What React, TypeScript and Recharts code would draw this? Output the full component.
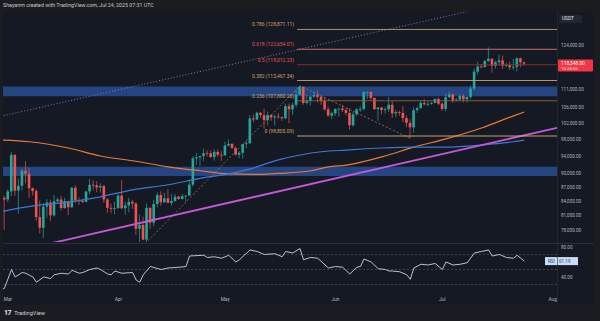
import React from 'react';
import { ComposedChart, Bar, Line, XAxis, YAxis, ReferenceLine, ReferenceArea } from 'recharts';

// Daily BTC/USDT candles from Feb 28 (day -1) to Jul 24 (day 145), prices in thousands
const firstDay = -1;
const opens = [
  84.7, 84.35, 86.06, 94.27, 86.22, 87.28, 90.6, 89.96, 86.74, 86.15, 80.73, 78.6, 82.86, 83.72, 81.07, 83.97,
  84.34, 82.57, 84.01, 82.72, 86.85, 84.17, 84.04, 83.83, 86.05, 87.5, 87.4, 86.9, 87.2, 84.35, 82.6, 82.39,
  82.55, 85.16, 82.52, 83.1, 83.86, 83.5, 78.4, 79.16, 76.32, 82.6, 79.6, 83.4, 85.3, 83.76, 84.57, 83.63,
  84.03, 84.94, 84.45, 85.06, 85.17, 87.52, 93.44, 93.7, 93.98, 94.64, 94.63, 93.75, 94.98, 94.28, 94.17, 96.49,
  96.91, 95.89, 94.32, 94.75, 96.83, 97.03, 103.24, 102.97, 104.7, 104.1, 102.79, 104.1, 103.5, 103.74, 103.55, 103.26,
  106.45, 105.6, 106.8, 109.6, 111.7, 107.3, 107.8, 109.0, 109.4, 108.94, 107.8, 105.6, 103.98, 104.59, 105.65, 105.8,
  105.4, 104.65, 101.5, 104.3, 105.6, 105.7, 110.26, 110.27, 108.65, 105.67, 106.07, 105.41, 105.6, 106.8, 104.55, 104.88,
  104.66, 103.3, 102.1, 100.96, 105.4, 105.9, 107.3, 106.95, 107.05, 107.3, 108.35, 107.1, 105.7, 108.85, 109.6, 107.99,
  108.2, 109.2, 108.26, 108.9, 111.23, 115.99, 117.5, 117.4, 119.1, 119.8, 117.7, 118.76, 119.3, 117.76, 117.9, 117.27,
  117.4, 119.95, 118.75,
];
const highs = [
  85.1, 86.5, 95.0, 94.4, 88.9, 91.0, 92.8, 91.2, 86.9, 86.5, 84.1, 83.6, 84.4, 84.3, 85.3, 84.7,
  85.1, 84.7, 84.1, 87.0, 87.4, 84.8, 84.5, 86.1, 88.8, 88.5, 88.3, 87.8, 87.5, 84.6, 83.5, 83.9,
  85.5, 88.5, 83.9, 84.7, 84.2, 83.8, 81.2, 80.8, 83.5, 82.7, 84.3, 85.9, 86.1, 85.8, 86.5, 85.5,
  85.5, 85.1, 85.6, 85.3, 88.5, 93.9, 94.7, 94.0, 95.7, 95.3, 95.3, 95.6, 95.5, 95.2, 97.4, 97.9,
  96.95, 96.3, 95.2, 96.9, 97.7, 104.0, 104.3, 104.98, 104.9, 105.8, 105.0, 104.3, 104.2, 104.6, 103.7, 107.1,
  107.1, 107.3, 110.8, 111.98, 111.8, 109.5, 109.3, 110.4, 110.7, 109.3, 108.9, 106.3, 104.9, 105.9, 105.9, 106.8,
  106.0, 105.9, 105.0, 105.9, 106.4, 110.5, 110.4, 110.4, 108.8, 106.2, 106.2, 106.1, 108.9, 107.8, 105.5, 105.3,
  106.5, 104.0, 103.0, 106.1, 106.3, 108.1, 108.3, 107.8, 107.6, 108.5, 108.8, 107.5, 109.8, 110.5, 109.8, 108.5,
  109.7, 109.7, 109.2, 111.99, 116.9, 118.9, 118.2, 119.5, 123.2, 119.9, 119.2, 120.9, 120.8, 118.6, 118.9, 119.7,
  120.2, 120.1, 119.0,
];
const lows = [
  78.2, 83.8, 85.0, 85.1, 81.4, 86.3, 87.8, 84.7, 85.2, 80.0, 77.5, 76.6, 80.6, 79.9, 80.8, 83.6,
  82.0, 82.4, 81.1, 82.6, 83.6, 83.2, 83.6, 83.8, 85.5, 86.3, 85.9, 85.8, 83.6, 81.6, 81.5, 81.3,
  82.4, 82.3, 81.2, 81.7, 82.4, 77.2, 74.5, 76.2, 74.6, 78.4, 78.9, 82.7, 83.0, 83.7, 83.6, 83.1,
  83.9, 84.3, 84.3, 83.9, 85.1, 87.1, 91.9, 91.7, 92.8, 93.9, 93.6, 92.9, 93.8, 92.9, 94.1, 96.3,
  95.7, 94.1, 93.5, 93.4, 95.8, 96.9, 102.3, 102.8, 103.3, 100.7, 101.5, 102.6, 101.4, 103.1, 102.6, 103.0,
  102.0, 104.1, 106.1, 109.3, 106.8, 106.9, 106.6, 108.6, 107.5, 106.8, 105.3, 103.6, 103.1, 103.9, 103.7, 104.9,
  104.0, 100.4, 101.1, 103.9, 104.9, 105.3, 108.4, 108.1, 105.4, 102.7, 104.3, 104.5, 104.9, 103.4, 103.5, 103.9,
  102.3, 101.0, 98.2, 99.6, 104.7, 105.8, 106.6, 106.4, 106.8, 107.2, 106.7, 105.3, 105.1, 108.6, 107.3, 107.8,
  107.8, 107.5, 107.4, 108.3, 110.6, 115.2, 116.9, 117.2, 118.9, 115.7, 116.9, 117.8, 116.8, 117.3, 116.5, 116.5,
  116.1, 117.3, 117.8,
];
const closes = [
  84.35, 86.06, 94.27, 86.22, 87.28, 90.6, 89.96, 86.74, 86.15, 80.73, 78.6, 82.86, 83.72, 81.07, 83.97, 84.34,
  82.57, 84.01, 82.72, 86.85, 84.17, 84.04, 83.83, 86.05, 87.5, 87.4, 86.9, 87.2, 84.35, 82.6, 82.39, 82.55,
  85.16, 82.52, 83.1, 83.86, 83.5, 78.4, 79.16, 76.32, 82.6, 79.6, 83.4, 85.3, 83.76, 84.57, 83.63, 84.03,
  84.94, 84.45, 85.06, 85.17, 87.52, 93.44, 93.7, 93.98, 94.64, 94.63, 93.75, 94.98, 94.28, 94.17, 96.49, 96.91,
  95.89, 94.32, 94.75, 96.83, 97.03, 103.24, 102.97, 104.7, 104.1, 102.79, 104.1, 103.5, 103.74, 103.55, 103.26, 106.45,
  105.6, 106.8, 109.6, 111.7, 107.3, 107.8, 109.0, 109.4, 108.94, 107.8, 105.6, 103.98, 104.59, 105.65, 105.8, 105.4,
  104.65, 101.5, 104.3, 105.6, 105.7, 110.26, 110.27, 108.65, 105.67, 106.07, 105.41, 105.6, 106.8, 104.55, 104.88, 104.66,
  103.3, 102.1, 100.96, 105.4, 105.9, 107.3, 106.95, 107.05, 107.3, 108.35, 107.1, 105.7, 108.85, 109.6, 107.99, 108.2,
  109.2, 108.26, 108.9, 111.23, 115.99, 117.5, 117.4, 119.1, 119.8, 117.7, 118.76, 119.3, 117.76, 117.9, 117.27, 117.4,
  119.95, 118.75, 118.348,
];

const priceTicks = [78000, 81000, 84000, 87000, 90000, 94000, 98000, 102000, 106000, 111000, 124000];
const monthDays = [0, 31, 61, 92, 122, 153];
const monthNames = ['Mar', 'Apr', 'May', 'Jun', 'Jul', 'Aug'];

// Trend-based fib extension levels
const fibRatios = ['0.786', '0.618', '0.5', '0.382', '0.236', '0'];
const fibPrices = [128871.11, 122654.01, 118012.23, 113467.34, 107880.26, 98805.09];
const fibLineColors = ['#c49a72', '#d9777c', '#8f2e3c', '#c9a27c', '#8e5f3a', '#dcb27e'];
const fibTextColors = ['#d4a066', '#e0565a', '#e0565a', '#d4a066', '#d4a066', '#d4a066'];
const fibStartDay = 81.2;

// Support / resistance boxes
const zoneLows = [109100, 89450];
const zoneHighs = [111750, 91500];

// Moving averages (thousands)
const orangeMaDays = [-2, 6, 17, 26, 35, 45, 54, 62, 71, 76, 85, 90, 95, 105, 114, 123, 133, 142, 145];
const orangeMa = [97.8, 97.4, 95.9, 94.0, 92.9, 91.5, 90.6, 89.9, 89.8, 90.0, 90.6, 91.5, 91.9, 93.8, 96.1, 98.1, 100.8, 103.9, 104.9];
const blueMaDays = [-2, 7, 17, 26, 35, 45, 54, 62, 67, 76, 88, 95, 105, 114, 123, 133, 142, 145];
const blueMa = [81.8, 83.0, 83.8, 84.9, 86.4, 87.5, 88.9, 89.9, 90.8, 93.1, 95.0, 95.4, 95.9, 96.1, 96.1, 96.6, 97.4, 97.8];

// Drawn trendlines (thousands)
const supportDays = [12, 155];
const supportPrices = [75.6, 101.0];
const channelDays = [-2, 130];
const channelPrices = [103.8, 135.0];
const swingDays = [37, 82, 113];
const swingPrices = [74.5, 111.98, 98.2];

// RSI(14)
const rsiDays = [-2, -1, 1, 2, 4, 5, 7, 8, 10, 12, 13, 15, 17, 18, 20, 21, 23, 25, 26, 28, 29, 30, 32, 35, 36, 37, 38,
  40, 43, 45, 48, 50, 51, 55, 56, 58, 60, 62, 64, 65, 68, 70, 72, 75, 77, 78, 80, 82, 83, 85, 87, 90, 92, 94, 96,
  98, 99, 100, 102, 104, 106, 107, 108, 110, 112, 113, 114, 116, 118, 120, 122, 123, 125, 127, 129, 131, 133, 135,
  136, 138, 140, 142, 143, 145];
const rsiValues = [23, 25, 50, 40, 46, 45, 40, 33, 40, 38, 43, 45, 44, 49, 45, 46, 50, 52, 50, 44, 43, 48, 45, 46, 36, 33, 43,
  54, 50, 52, 53, 54, 68, 69, 66, 67, 65, 69, 60, 63, 76, 74, 70, 71, 67, 74, 72, 78, 63, 66, 65, 52, 54, 53, 44,
  53, 54, 64, 60, 51, 50, 48, 48, 47, 43, 37, 52, 57, 56, 58, 50, 60, 56, 57, 59, 72, 74, 76,
  68, 70, 66, 65, 69, 61.19];

const lastPrice = 118348;
const countdown = '16:28:05';
const rsiLast = 61.19;

const xDomain: [number, number] = [-1.4, 154.2];
const priceDomain: [number, number] = [75860, 134600];
const rsiDomain: [number, number] = [14.7, 85.3];

const COLORS = {
  frame: '#1b1c20',
  bg: '#151924',
  border: '#2a2e39',
  text: '#b2b5be',
  up: '#26a69a',
  down: '#ef5350',
  zone: '#27498b',
  orange: '#ec7a2e',
  blue: '#3b78d8',
  purple: '#c45ad8',
  channel: '#9f7cc0',
  swing: '#a8825f',
  rsi: '#d1d4dc',
};

const FONT = 'Roboto, "Liberation Sans", sans-serif';

const candles = opens.map((o, i) => ({
  day: firstDay + i,
  open: o * 1000,
  high: highs[i] * 1000,
  low: lows[i] * 1000,
  close: closes[i] * 1000,
}));
const orangeData = orangeMaDays.map((d, i) => ({ day: d, v: orangeMa[i] * 1000 }));
const blueData = blueMaDays.map((d, i) => ({ day: d, v: blueMa[i] * 1000 }));
const supportData = supportDays.map((d, i) => ({ day: d, v: supportPrices[i] * 1000 }));
const channelData = channelDays.map((d, i) => ({ day: d, v: channelPrices[i] * 1000 }));
const swingData = swingDays.map((d, i) => ({ day: d, v: swingPrices[i] * 1000 }));
const rsiData = rsiDays.map((d, i) => ({ day: d, v: rsiValues[i] }));

const fmt = (v: number) => v.toLocaleString('en-US', { minimumFractionDigits: 2, maximumFractionDigits: 2 });

// Bar covers low..high; open/close are placed inside it on the log scale
const Candle = (props: any) => {
  const { x, y, width, height, payload } = props;
  if (x == null || y == null || height == null || !payload) return null;
  const yHigh = Math.min(y, y + height);
  const yLow = Math.max(y, y + height);
  const lh = Math.log(payload.high);
  const ll = Math.log(payload.low);
  const span = lh - ll || 1;
  const toY = (v: number) => yHigh + ((yLow - yHigh) * (lh - Math.log(v))) / span;
  const cx = x + width / 2;
  const color = payload.close >= payload.open ? COLORS.up : COLORS.down;
  const top = toY(Math.max(payload.open, payload.close));
  const bottom = toY(Math.min(payload.open, payload.close));
  return (
    <g>
      <line x1={cx} x2={cx} y1={yHigh} y2={yLow} stroke={color} strokeWidth={0.7} />
      <rect x={cx - 1.3} y={top} width={2.6} height={Math.max(bottom - top, 0.8)} fill={color} />
    </g>
  );
};

const FibLabel = (props: any) => {
  const { viewBox, text, color } = props;
  if (!viewBox) return null;
  return (
    <text x={viewBox.x - 3} y={viewBox.y - 3} textAnchor="end" fontSize={5} fontFamily={FONT} fill={color}>
      {text}
    </text>
  );
};

const PriceTag = (props: any) => {
  const { viewBox } = props;
  if (!viewBox) return null;
  const x = viewBox.x + viewBox.width + 1;
  const y = viewBox.y;
  return (
    <g>
      <rect x={x} y={y - 4} width={35} height={12} rx={1} fill="#f23645" />
      <text x={x + 3} y={y + 1.5} fontSize={4.8} fontFamily={FONT} fill="#ffffff">{fmt(lastPrice)}</text>
      <text x={x + 3} y={y + 6.5} fontSize={4.3} fontFamily={FONT} fill="#ffd9dc">{countdown}</text>
    </g>
  );
};

const RsiTag = (props: any) => {
  const { viewBox } = props;
  if (!viewBox) return null;
  const x = viewBox.x + viewBox.width - 12;
  const y = viewBox.y;
  return (
    <g>
      <rect x={x} y={y - 4} width={33} height={8} fill="#c9def6" />
      <text x={x + 3} y={y + 1.8} fontSize={4.6} fontFamily={FONT} fill="#1d3b73">RSI</text>
      <text x={x + 14} y={y + 1.8} fontSize={4.6} fontFamily={FONT} fill="#1d3b73">{rsiLast.toFixed(2)}</text>
    </g>
  );
};

const PricePane = () => (
  <ComposedChart width={600} height={243} data={candles} margin={{ top: 12, right: 0, bottom: 1, left: 3 }}>
    <XAxis dataKey="day" type="number" domain={xDomain} allowDataOverflow hide />
    <YAxis
      orientation="right"
      scale="log"
      domain={priceDomain}
      allowDataOverflow
      ticks={priceTicks}
      width={43}
      tickLine={false}
      axisLine={false}
      tickSize={0}
      tickMargin={4}
      tick={{ fontSize: 4.6, fill: COLORS.text, fontFamily: FONT, textAnchor: 'start' }}
      tickFormatter={fmt}
    />
    {zoneLows.map((lo, i) => (
      <ReferenceArea
        key={`zone-${i}`}
        x1={xDomain[0]}
        x2={xDomain[1]}
        y1={lo}
        y2={zoneHighs[i]}
        fill={COLORS.zone}
        fillOpacity={0.92}
        stroke="none"
        ifOverflow="visible"
      />
    ))}
    <Bar dataKey={(d: any) => [d.low, d.high]} barSize={3} shape={<Candle />} isAnimationActive={false} />
    <Line data={orangeData} dataKey="v" type="monotone" stroke={COLORS.orange} strokeWidth={1.2} dot={false} isAnimationActive={false} />
    <Line data={blueData} dataKey="v" type="monotone" stroke={COLORS.blue} strokeWidth={1.2} dot={false} isAnimationActive={false} />
    <Line data={supportData} dataKey="v" type="linear" stroke={COLORS.purple} strokeWidth={1.8} dot={false} isAnimationActive={false} />
    <Line data={channelData} dataKey="v" type="linear" stroke={COLORS.channel} strokeWidth={0.9} strokeDasharray="1 2" dot={false} isAnimationActive={false} />
    <Line data={swingData} dataKey="v" type="linear" stroke={COLORS.swing} strokeWidth={0.7} strokeDasharray="2 2" dot={false} isAnimationActive={false} />
    {fibPrices.map((p, i) => (
      <ReferenceLine
        key={`fib-${i}`}
        segment={[{ x: fibStartDay, y: p }, { x: xDomain[1], y: p }]}
        stroke={fibLineColors[i]}
        strokeWidth={0.9}
        ifOverflow="visible"
        label={<FibLabel text={`${fibRatios[i]} (${fmt(p)})`} color={fibTextColors[i]} />}
      />
    ))}
    <ReferenceLine y={lastPrice} stroke="none" label={<PriceTag />} />
  </ComposedChart>
);

const RsiPane = () => (
  <ComposedChart width={600} height={62} data={rsiData} margin={{ top: 0, right: 0, bottom: 0, left: 3 }}>
    <XAxis
      dataKey="day"
      type="number"
      domain={xDomain}
      allowDataOverflow
      ticks={monthDays}
      tickFormatter={(d: number) => monthNames[monthDays.indexOf(d)]}
      height={9}
      tickLine={false}
      axisLine={false}
      tickSize={0}
      tickMargin={2}
      tick={{ fontSize: 4.8, fill: COLORS.text, fontFamily: FONT }}
    />
    <YAxis
      orientation="right"
      domain={rsiDomain}
      allowDataOverflow
      ticks={[40, 80]}
      width={43}
      tickLine={false}
      axisLine={false}
      tickSize={0}
      tickMargin={4}
      tick={{ fontSize: 4.6, fill: COLORS.text, fontFamily: FONT, textAnchor: 'start' }}
      tickFormatter={(v: number) => v.toFixed(2)}
    />
    {[70, 50, 30].map((lvl) => (
      <ReferenceLine key={lvl} y={lvl} stroke="#787b86" strokeOpacity={0.7} strokeWidth={0.6} strokeDasharray="2 2" />
    ))}
    <Line dataKey="v" type="linear" stroke={COLORS.rsi} strokeWidth={0.9} dot={false} isAnimationActive={false} />
    <ReferenceLine y={rsiLast} stroke="none" label={<RsiTag />} />
  </ComposedChart>
);

export default function App() {
  return (
    <div style={{ position: 'absolute', left: 0, top: 0, width: 600, height: 321, background: COLORS.frame, overflow: 'hidden', fontFamily: FONT }}>
      <div style={{ position: 'absolute', left: 3, top: 12, width: 591, height: 293, background: COLORS.bg }} />
      <div style={{ position: 'absolute', left: 3, top: 2, fontSize: 5.3, color: '#c4c6cc', whiteSpace: 'nowrap' }}>
        Shayanm created with TradingView.com, Jul 24, 2025 07:31 UTC
      </div>
      <div style={{ position: 'absolute', left: 0, top: 0 }}>
        <PricePane />
      </div>
      <div style={{ position: 'absolute', left: 3, top: 243, width: 591, height: 1, background: COLORS.border }} />
      <div style={{ position: 'absolute', left: 0, top: 243 }}>
        <RsiPane />
      </div>
      <div style={{ position: 'absolute', left: 557, top: 12, width: 1, height: 293, background: COLORS.border, opacity: 0.6 }} />
      <div
        style={{
          position: 'absolute', left: 559, top: 15, width: 23, height: 8, background: '#23262f', color: '#e6e7ea',
          fontSize: 4.8, lineHeight: '8px', paddingLeft: 3, boxSizing: 'border-box',
        }}
      >
        USDT
      </div>
      <div style={{ position: 'absolute', left: 4, top: 309, display: 'flex', alignItems: 'center', color: '#d1d4dc', whiteSpace: 'nowrap' }}>
        <span style={{ fontSize: 7, fontWeight: 900, letterSpacing: -0.5, marginRight: 3 }}>17</span>
        <span style={{ fontSize: 5.6 }}>TradingView</span>
      </div>
    </div>
  );
}
